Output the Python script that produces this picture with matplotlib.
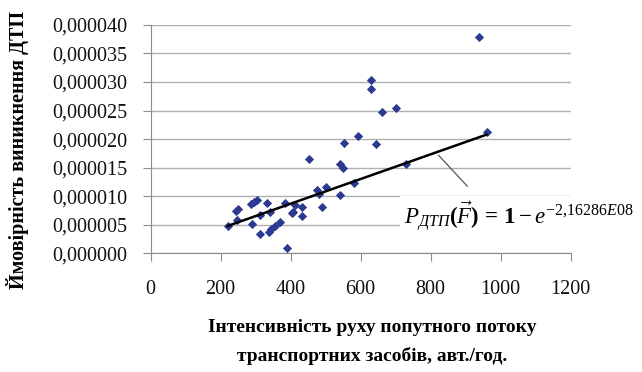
import numpy as np
import matplotlib
matplotlib.use("Agg")
import matplotlib.pyplot as plt
from matplotlib.ticker import FuncFormatter

plt.rcParams["font.family"] = ["Liberation Serif", "DejaVu Serif"]
plt.rcParams["mathtext.fontset"] = "custom"
plt.rcParams["mathtext.rm"] = "Liberation Serif"
plt.rcParams["mathtext.it"] = "Liberation Serif:italic"
plt.rcParams["mathtext.bf"] = "Liberation Serif:bold"

# =========================
# Data
# =========================
flow = [939, 629, 629, 662, 700, 960, 592, 552, 643, 452,
        541, 550, 729, 581, 474, 501, 482, 541, 490, 220,
        248, 244, 250, 288, 296, 303, 331, 290, 312, 341,
        312, 339, 345, 355, 369, 384, 390, 403, 406, 412,
        431, 431]
prob_e6 = [37.8, 30.4, 28.8, 24.8, 25.4, 21.2, 20.6, 19.3, 19.2, 16.6,
           15.7, 15.0, 15.7, 12.3, 11.1, 11.6, 10.4, 10.2, 8.1, 4.8,
           5.8, 7.5, 7.7, 8.6, 9.0, 9.35, 8.8, 5.1, 6.7, 7.2,
           3.3, 3.7, 4.2, 4.8, 5.4, 8.8, 1.0, 7.0, 7.3, 8.5,
           8.1, 6.5]
prob = np.array(prob_e6) * 1e-6

# linear trend line end points
trend_x = [220, 960]
trend_y = [4.8e-6, 2.08e-5]

x_ticks = [0, 200, 400, 600, 800, 1000, 1200]
y_ticks = np.arange(0, 4.5e-5, 5e-6)

fig = plt.figure(figsize=(6.42, 3.72), dpi=100)
ax = fig.add_axes([0.2347, 0.319, 0.6542, 0.614])

ax.set_xlim(0, 1200)
ax.set_ylim(0, 4e-5)
ax.set_xticks(x_ticks)
ax.set_yticks(y_ticks)
ax.yaxis.set_major_formatter(FuncFormatter(lambda v, p: f"{v:.6f}".replace(".", ",")))

ax.grid(axis="y", color="#b0b0b0", lw=1.0, zorder=0)
ax.set_axisbelow(True)
for s in ["top", "right"]:
    ax.spines[s].set_visible(False)
for s in ["left", "bottom"]:
    ax.spines[s].set_color("#8c8c8c")
ax.tick_params(colors="#8c8c8c", labelcolor="#111111", labelsize=14.5, length=6, direction="out")
ax.tick_params(axis="y", pad=11)
ax.tick_params(axis="x", pad=13)

ax.scatter(flow, prob, marker="D", s=22, color="#2b3990", zorder=3, linewidths=0)
ax.plot(trend_x, trend_y, color="black", lw=1.8, zorder=4)

# leader line and equation label
ax.annotate("", xy=(817, 1.754e-5), xytext=(910, 1.14e-5),
            arrowprops=dict(arrowstyle="-", color="#555555", lw=0.9), zorder=5)
ax.text(723, 4.96e-6,
        r"$P_{ДТП}\mathbf{(}\vec{F}\mathbf{)}\,\mathbf{=}\,\mathbf{1}-e^{-2{,}16286E08}$",
        fontsize=16.5, va="baseline", ha="left", zorder=6, clip_on=False,
        bbox=dict(facecolor="white", edgecolor="none", pad=3))

fig.text(0.58, 1 - 328 / 372, "Інтенсивність руху попутного потоку",
         ha="center", va="center", fontsize=14, fontweight="bold")
fig.text(0.58, 1 - 356 / 372, "транспортних засобів, авт./год.",
         ha="center", va="center", fontsize=14, fontweight="bold")
fig.text(18 / 642, 1 - 150 / 372, "Ймовірність виникнення ДТП",
         rotation=90, ha="center", va="center", fontsize=14.5, fontweight="bold")

fig.savefig("out.png", dpi=100, facecolor="white")
